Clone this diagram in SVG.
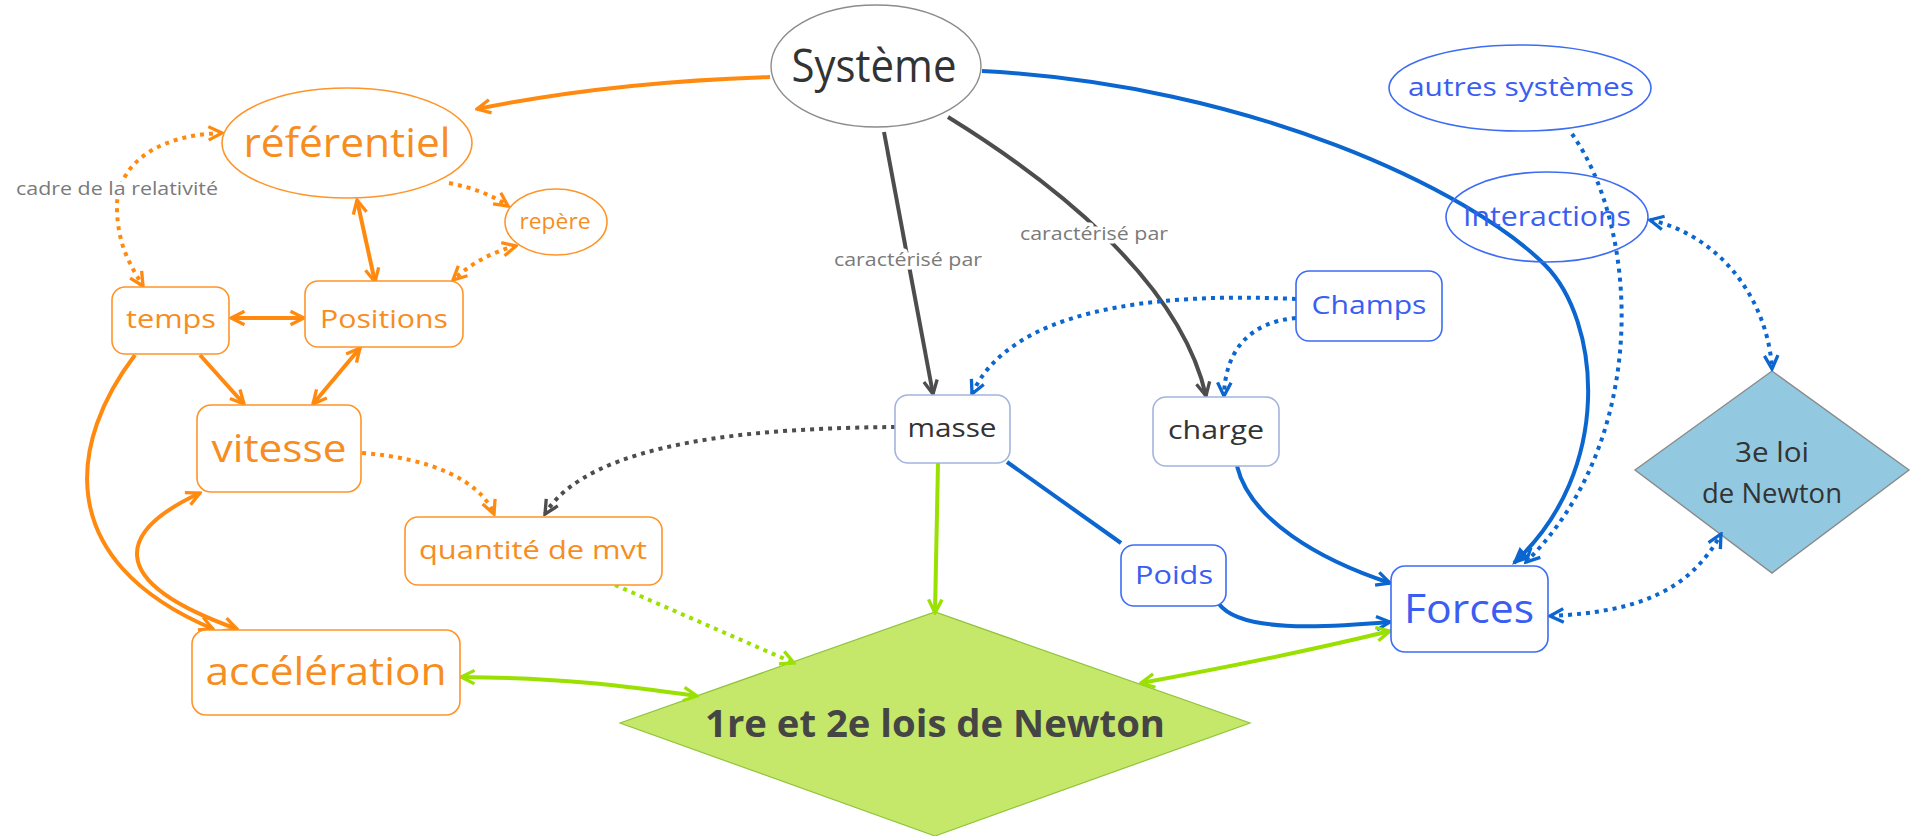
<svg xmlns="http://www.w3.org/2000/svg" width="1911" height="836" viewBox="0 0 1911 836">
<style>
text{font-family:"Open Sans","Noto Sans","Liberation Sans",sans-serif;text-anchor:middle}
.ot{fill:#f68d1e}
.bt{fill:#3a5df2}
.dt{fill:#333333}
.lbl{fill:#7a7a7a;font-size:19px;stroke:#ffffff;stroke-width:7px;paint-order:stroke;stroke-linejoin:round}
.on{fill:#ffffff;stroke:#ff9429;stroke-width:1.6}
.bn{fill:#ffffff;stroke:#3d6cf5;stroke-width:1.6}
.mn{fill:#ffffff;stroke:#a3b4de;stroke-width:1.6}
.c{fill:none;stroke-width:4}
.o{stroke:#ff8a0f}
.b{stroke:#0b66cf}
.g{stroke:#4d4d4d}
.l{stroke:#9ae000}
.d{stroke-dasharray:4 5}
</style>
<defs>
<marker id="ao" viewBox="0 0 12 12" refX="10.5" refY="6" markerWidth="18" markerHeight="18" markerUnits="userSpaceOnUse" orient="auto-start-reverse"><path d="M1.5,1.5 L10.5,6 L1.5,10.5" fill="none" stroke="#ff8a0f" stroke-width="2.2" stroke-dasharray="none"/></marker>
<marker id="ab" viewBox="0 0 12 12" refX="10.5" refY="6" markerWidth="18" markerHeight="18" markerUnits="userSpaceOnUse" orient="auto-start-reverse"><path d="M1.5,1.5 L10.5,6 L1.5,10.5" fill="none" stroke="#0b66cf" stroke-width="2.2" stroke-dasharray="none"/></marker>
<marker id="abf" viewBox="0 0 12 12" refX="10.5" refY="6" markerWidth="18" markerHeight="18" markerUnits="userSpaceOnUse" orient="auto-start-reverse"><path d="M1,1.5 L11,6 L1,10.5 Z" fill="#0b66cf" stroke="#0b66cf" stroke-width="1"/></marker>
<marker id="ag" viewBox="0 0 12 12" refX="10.5" refY="6" markerWidth="18" markerHeight="18" markerUnits="userSpaceOnUse" orient="auto-start-reverse"><path d="M1.5,1.5 L10.5,6 L1.5,10.5" fill="none" stroke="#4d4d4d" stroke-width="2.2" stroke-dasharray="none"/></marker>
<marker id="al" viewBox="0 0 12 12" refX="10.5" refY="6" markerWidth="18" markerHeight="18" markerUnits="userSpaceOnUse" orient="auto-start-reverse"><path d="M1.5,1.5 L10.5,6 L1.5,10.5" fill="none" stroke="#9ae000" stroke-width="2.2" stroke-dasharray="none"/></marker>
</defs>
<rect width="1911" height="836" fill="#ffffff"/>

<g id="nodes-shapes">
<g id="n-1re-2e-lois"><polygon points="620,723 935,612 1250,723 935,836" fill="#c6e86a" stroke="#8fc43a" stroke-width="1.2"/><text x="935" y="737" font-size="37" font-weight="bold" fill="#454545" textLength="460" lengthAdjust="spacingAndGlyphs">1re et 2e lois de Newton</text></g>
<g id="n-3e-loi"><polygon points="1635,470 1772,371 1909,470 1772,573" fill="#92c9e1" stroke="#8a8a8a" stroke-width="1.4"/><text x="1772" y="462" font-size="27" class="dt" textLength="74" lengthAdjust="spacingAndGlyphs">3e loi</text><text x="1772" y="503" font-size="27" class="dt" textLength="140" lengthAdjust="spacingAndGlyphs">de Newton</text></g>
</g>

<g id="connectors">
<path class="c o" d="M770,77 Q 610,82 477,109" marker-end="url(#ao)"/>
<path class="c b" d="M982,71 C 1250,85 1470,190 1545,265 C 1600,320 1615,470 1514,563" marker-end="url(#abf)"/>
<path class="c g" d="M884,132 L933,394" marker-end="url(#ag)"/>
<path class="c g" d="M948,117 C 1050,180 1180,280 1206,396" marker-end="url(#ag)"/>
<path class="c b d" d="M1296,299 C 1150,292 1010,310 972,394" marker-end="url(#ab)"/>
<path class="c b d" d="M1296,318 C 1250,322 1225,350 1224,396" marker-end="url(#ab)"/>
<path class="c g d" d="M895,427 C 760,428 590,440 545,514" marker-end="url(#ag)"/>
<path class="c o d" d="M362,453 C 430,458 480,480 494,514" marker-end="url(#ao)"/>
<path class="c l d" d="M615,585 L794,663" marker-end="url(#al)"/>
<path class="c l" d="M938,463 L935,613" marker-end="url(#al)"/>
<path class="c b" d="M1007,462 L1121,543"/>
<path class="c b" d="M1219,604 C 1240,632 1320,628 1390,622" marker-end="url(#ab)"/>
<path class="c b" d="M1237,466 C 1250,520 1320,560 1390,583" marker-end="url(#ab)"/>
<path class="c b d" d="M1572,134 C 1640,230 1650,440 1526,562" marker-end="url(#ab)"/>
<path class="c b d" d="M1650,220 C 1720,235 1768,300 1772,369" marker-start="url(#ab)" marker-end="url(#ab)"/>
<path class="c b d" d="M1550,616 C 1640,612 1690,590 1721,534" marker-start="url(#ab)" marker-end="url(#ab)"/>
<path class="c l" d="M461,677 C 560,678 620,685 697,696" marker-start="url(#al)" marker-end="url(#al)"/>
<path class="c l" d="M1141,683 C 1240,665 1320,648 1390,631" marker-start="url(#al)" marker-end="url(#al)"/>
<path class="c o" d="M357,200 L375,282" marker-start="url(#ao)" marker-end="url(#ao)"/>
<path class="c o d" d="M449,183 Q 485,190 508,206" marker-end="url(#ao)"/>
<path class="c o d" d="M516,246 Q 480,255 453,280" marker-start="url(#ao)" marker-end="url(#ao)"/>
<path class="c o d" d="M222,133 C 150,135 115,170 117,210 C 118,245 130,265 143,286" marker-start="url(#ao)" marker-end="url(#ao)"/>
<path class="c o" d="M231,318 L304,318" marker-start="url(#ao)" marker-end="url(#ao)"/>
<path class="c o" d="M200,355 L244,404" marker-end="url(#ao)"/>
<path class="c o" d="M360,348 L313,404" marker-start="url(#ao)" marker-end="url(#ao)"/>
<path class="c o" d="M135,355 C 70,440 50,560 213,629" marker-end="url(#ao)"/>
<path class="c o" d="M200,493 C 120,530 100,580 237,629" marker-start="url(#ao)" marker-end="url(#ao)"/>
<text class="lbl" x="908" y="266" textLength="148" lengthAdjust="spacingAndGlyphs">caractérisé par</text>
<text class="lbl" x="1094" y="240" textLength="148" lengthAdjust="spacingAndGlyphs">caractérisé par</text>
<text class="lbl" x="117" y="195" textLength="202" lengthAdjust="spacingAndGlyphs">cadre de la relativité</text>
</g>

<g id="n-systeme"><ellipse cx="876" cy="66" rx="105" ry="61" fill="#ffffff" stroke="#8c8c8c" stroke-width="1.4"/><text x="874" y="82" font-size="46" class="dt" textLength="165" lengthAdjust="spacingAndGlyphs">Système</text></g>
<g id="n-referentiel"><ellipse cx="347" cy="143" rx="125" ry="55" class="on"/><text x="347" y="157" font-size="40" class="ot" textLength="207" lengthAdjust="spacingAndGlyphs">référentiel</text></g>
<g id="n-repere"><ellipse cx="556" cy="222" rx="51" ry="33" class="on"/><text x="555" y="229" font-size="21" class="ot" textLength="71" lengthAdjust="spacingAndGlyphs">repère</text></g>
<g id="n-temps"><rect x="112" y="287" width="117" height="67" rx="13" class="on"/><text x="171" y="328" font-size="25" class="ot" textLength="90" lengthAdjust="spacingAndGlyphs">temps</text></g>
<g id="n-positions"><rect x="305" y="281" width="158" height="66" rx="13" class="on"/><text x="384" y="328" font-size="26" class="ot" textLength="128" lengthAdjust="spacingAndGlyphs">Positions</text></g>
<g id="n-vitesse"><rect x="197" y="405" width="164" height="87" rx="14" class="on"/><text x="279" y="462" font-size="39" class="ot" textLength="135" lengthAdjust="spacingAndGlyphs">vitesse</text></g>
<g id="n-qdm"><rect x="405" y="517" width="257" height="68" rx="13" class="on"/><text x="533" y="559" font-size="25" class="ot" textLength="228" lengthAdjust="spacingAndGlyphs">quantité de mvt</text></g>
<g id="n-acceleration"><rect x="192" y="630" width="268" height="85" rx="14" class="on"/><text x="326" y="685" font-size="39" class="ot" textLength="241" lengthAdjust="spacingAndGlyphs">accélération</text></g>
<g id="n-masse"><rect x="895" y="395" width="115" height="68" rx="13" class="mn"/><text x="952" y="437" font-size="25" class="dt" textLength="89" lengthAdjust="spacingAndGlyphs">masse</text></g>
<g id="n-charge"><rect x="1153" y="397" width="126" height="69" rx="13" class="mn"/><text x="1216" y="439" font-size="25" class="dt" textLength="96" lengthAdjust="spacingAndGlyphs">charge</text></g>
<g id="n-champs"><rect x="1296" y="271" width="146" height="70" rx="13" class="bn"/><text x="1369" y="314" font-size="26" class="bt" textLength="115" lengthAdjust="spacingAndGlyphs">Champs</text></g>
<g id="n-poids"><rect x="1121" y="545" width="105" height="61" rx="13" class="bn"/><text x="1174" y="584" font-size="25" class="bt" textLength="78" lengthAdjust="spacingAndGlyphs">Poids</text></g>
<g id="n-forces"><rect x="1391" y="566" width="157" height="86" rx="14" class="bn"/><text x="1469" y="623" font-size="41" class="bt" textLength="130" lengthAdjust="spacingAndGlyphs">Forces</text></g>
<g id="n-autres-systemes"><ellipse cx="1520" cy="88" rx="131" ry="43" class="bn"/><text x="1521" y="96" font-size="25" class="bt" textLength="226" lengthAdjust="spacingAndGlyphs">autres systèmes</text></g>
<g id="n-interactions"><ellipse cx="1547" cy="217" rx="101" ry="45" fill="none" stroke="#3d6cf5" stroke-width="1.6"/><text x="1547" y="226" font-size="27" class="bt" textLength="168" lengthAdjust="spacingAndGlyphs">Interactions</text></g>
</svg>
